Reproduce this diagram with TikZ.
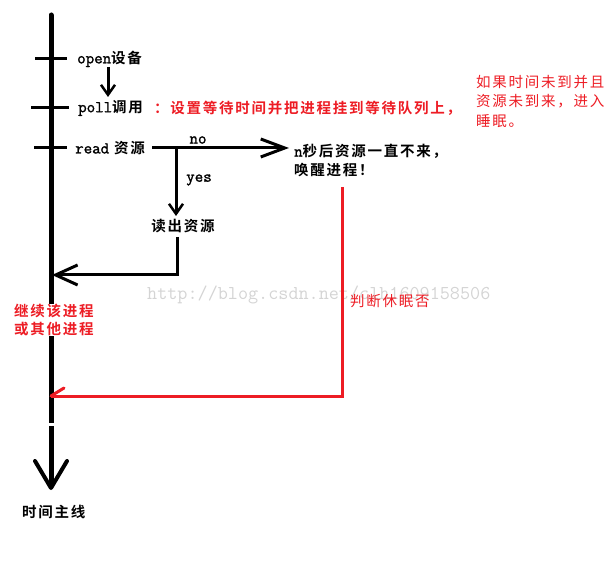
\documentclass[tikz,border=0pt]{standalone}
\usepackage{fontspec}
\newfontfamily\cjk[LetterSpace=12]{Noto Sans CJK SC}
\newfontfamily\cjkb[LetterSpace=12]{Noto Sans CJK SC Bold}
\newfontfamily\lmtb[FakeBold=1.5]{Latin Modern Mono}
\newfontfamily\lmt{Latin Modern Mono}
\newcommand\latb[1]{{\lmtb\fontsize{16.5}{17}\selectfont #1}}
\usetikzlibrary{arrows.meta}
\definecolor{pred}{RGB}{237,28,36}
\begin{document}
\begin{tikzpicture}[x=1pt,y=-1pt,
  lbl/.style={anchor=west,inner sep=0pt,font=\cjkb\fontsize{14.5}{19}\selectfont,align=left},
  redlbl/.style={anchor=west,inner sep=0pt,text=pred,font=\cjk\fontsize{14.5}{19.5}\selectfont,align=left},
  tick/.style={line width=3pt},
  mainline/.style={line width=5pt,line cap=round,-{Straight Barb[length=27pt,width=32pt,line width=4pt,round]}},
  arr/.style={line width=3pt,-{Straight Barb[length=10pt,width=14pt,line width=2.5pt]}},
  bigarr/.style={line width=3pt,-{Straight Barb[length=22pt,width=20pt,line width=3pt]}},
  redline/.style={line width=3pt,draw=pred},
  small/.style={anchor=center,inner sep=0pt,font=\lmtb\fontsize{16.5}{17}\selectfont}
]
\useasboundingbox (0,0) rectangle (616,569);
% watermark
\node[anchor=west,inner sep=0pt,text=black!17,font=\lmt\fontsize{19.6}{20}\selectfont] (wm) at (147,295) {http://blog.csdn.net/clh1609158506};
% main time line
\coordinate (mtop) at (51,15);
\coordinate (mtip) at (51,490);
\draw[mainline] (mtop) -- (mtip);
\fill[white] (48,422.5) rectangle (54,425.5);
% ticks
\draw[tick] (35,59) -- (67,59);
\draw[tick] (31,108) -- (69,108);
\draw[tick] (34,148) -- (67,148);
% labels
\node[lbl] (open) at (77,59) {\latb{open}设备};
\node[lbl] (poll) at (78,108) {\latb{poll}调用};
\node[redlbl,font=\cjkb\fontsize{14.5}{19.5}\selectfont] (pollnote) at (154,108) {：设置等待时间并把进程挂到等待队列上，};
\node[lbl] (read) at (75,148) {\latb{read} 资源};
\node[redlbl] (sleepnote) at (476,101) {如果时间未到并且\\资源未到来，进入\\睡眠。};
\node[lbl] (wake) at (294,160.5) {\latb{n}秒后资源一直不来，\\唤醒进程！};
\node[lbl,anchor=center] (readout) at (183,226) {读出资源};
\node[small] (no) at (198,140) {no};
\node[small] (yes) at (199,180) {yes};
\node[redlbl] (judge) at (350,301) {判断休眠否};
\node[redlbl,fill=white,font=\cjkb\fontsize{14.5}{18.5}\selectfont] (cont) at (14,320) {继续该进程\\或其他进程};
\node[lbl] (mainlbl) at (22,512) {时间主线};
% connectors
\coordinate (a1) at (108,67);
\coordinate (a2) at (108,97);
\draw[arr] (a1) -- (a2);
\coordinate (r1) at (152,148);
\coordinate (r2) at (289,148);
\coordinate (br) at (176,148);
\draw[line width=3pt,-{Straight Barb[length=24pt,width=18pt,line width=3pt]}] (r1) -- (r2);
\coordinate (y1) at (176,216);
\draw[arr] (br) -- (y1);
\coordinate (b1) at (177,237);
\coordinate (b2) at (177,275);
\coordinate (b3) at (52,275);
\draw[bigarr] (b1) -- (b2) -- (b3);
\coordinate (c1) at (342,187);
\coordinate (c2) at (342,396);
\coordinate (c3) at (51,396);
\draw[redline] (c1) -- (c2) -- (c3);
\draw[redline,line cap=round] (c3) -- (64,388);
\end{tikzpicture}
\end{document}
